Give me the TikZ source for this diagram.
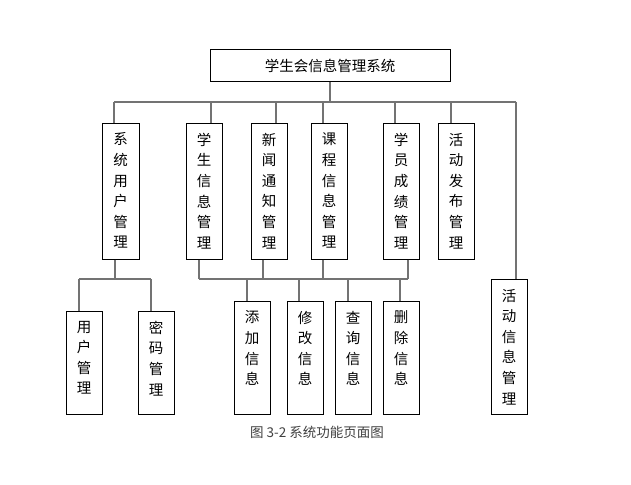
\documentclass[tikz,border=0pt]{standalone}
\usepackage{fontspec}
\setmainfont{Noto Sans CJK SC}
\usetikzlibrary{calc}
\tikzset{
  x=1pt, y=-1pt,
  boxn/.style={draw=black, line width=1pt, inner sep=0pt, fill=white},
  vtext/.style={anchor=north, inner sep=0pt, align=center, font=\fontsize{14.5}{20.6}\selectfont, yshift=-10.2pt},
  conn/.style={draw=black!55, line width=1.6pt},
}
\newcommand{\bx}[6]{% name, x1, y1, x2, y2, text
  \node[boxn, minimum width={#4-#2}, minimum height={#5-#3}] (#1) at ({(#2+#4)/2},{(#3+#5)/2}) {};
  \node[vtext] (#1t) at (#1.north) {#6};
}
\begin{document}
\begin{tikzpicture}
\useasboundingbox[fill=white] (0,0) rectangle (631,484);
\coordinate (busL) at (114,102);
\coordinate (busR) at (516,102);
\coordinate (bus2L) at (199,279);
\coordinate (bus2R) at (408,279);
\coordinate (bus3L) at (79,279);
\coordinate (bus3R) at (151,279);

% top
\node[boxn, minimum width=240, minimum height=32, font=\fontsize{14.5}{16}\selectfont] (top) at (330,66) {学生会信息管理系统};

% level 2 boxes
\bx{sys}{102}{123}{139}{259}{系\\统\\用\\户\\管\\理}
\bx{stu}{186}{123}{222}{259}{学\\生\\信\\息\\管\\理}
\bx{news}{251}{123}{287}{259}{新\\闻\\通\\知\\管\\理}
\bx{course}{311}{123}{347}{259}{课\\程\\信\\息\\管\\理}
\bx{score}{383}{123}{419}{259}{学\\员\\成\\绩\\管\\理}
\bx{act}{438}{123}{474}{259}{活\\动\\发\\布\\管\\理}

% level 3 boxes
\bx{user}{66}{311}{102}{414}{用\\户\\管\\理}
\bx{pwd}{138}{311}{174}{414}{密\\码\\管\\理}
\bx{add}{234}{301}{270}{414}{添\\加\\信\\息}
\bx{mod}{287}{301}{323}{414}{修\\改\\信\\息}
\bx{qry}{335}{301}{371}{414}{查\\询\\信\\息}
\bx{del}{383}{301}{419}{414}{删\\除\\信\\息}
\bx{actinfo}{491}{279}{527}{414}{活\\动\\信\\息\\管\\理}

% connectors
\draw[conn] (top.south) -- (top.south |- busL);
\draw[conn] (busL) -- (busR);
\draw[conn] (busL) -- (busL |- sys.north);
\draw[conn] (211,102) -- (stu.north -| 211,0);
\draw[conn] (276,102) -- (news.north -| 276,0);
\draw[conn] (323,102) -- (course.north -| 323,0);
\draw[conn] (395,102) -- (score.north -| 395,0);
\draw[conn] (451,102) -- (act.north -| 451,0);
\draw[conn] (busR) -- (actinfo.north -| busR);
% sys subtree
\draw[conn] (sys.south -| 115,0) -- (115,279);
\draw[conn] (bus3L) -- (bus3R);
\draw[conn] (bus3L) -- (user.north -| bus3L);
\draw[conn] (bus3R) -- (pwd.north -| bus3R);
% middle subtree
\draw[conn] (stu.south -| bus2L) -- (bus2L);
\draw[conn] (news.south -| 263,0) -- (263,279);
\draw[conn] (course.south -| 323,0) -- (323,279);
\draw[conn] (score.south -| bus2R) -- (bus2R);
\draw[conn] (bus2L) -- (bus2R);
\draw[conn] (247,279) -- (add.north -| 247,0);
\draw[conn] (299,279) -- (mod.north -| 299,0);
\draw[conn] (348,279) -- (qry.north -| 348,0);
\draw[conn] (400,279) -- (del.north -| 400,0);

% caption
\node[font=\fontsize{13.5}{15}\selectfont, text=black!75] (cap) at (317,432) {图 3-2 系统功能页面图};
\end{tikzpicture}
\end{document}
